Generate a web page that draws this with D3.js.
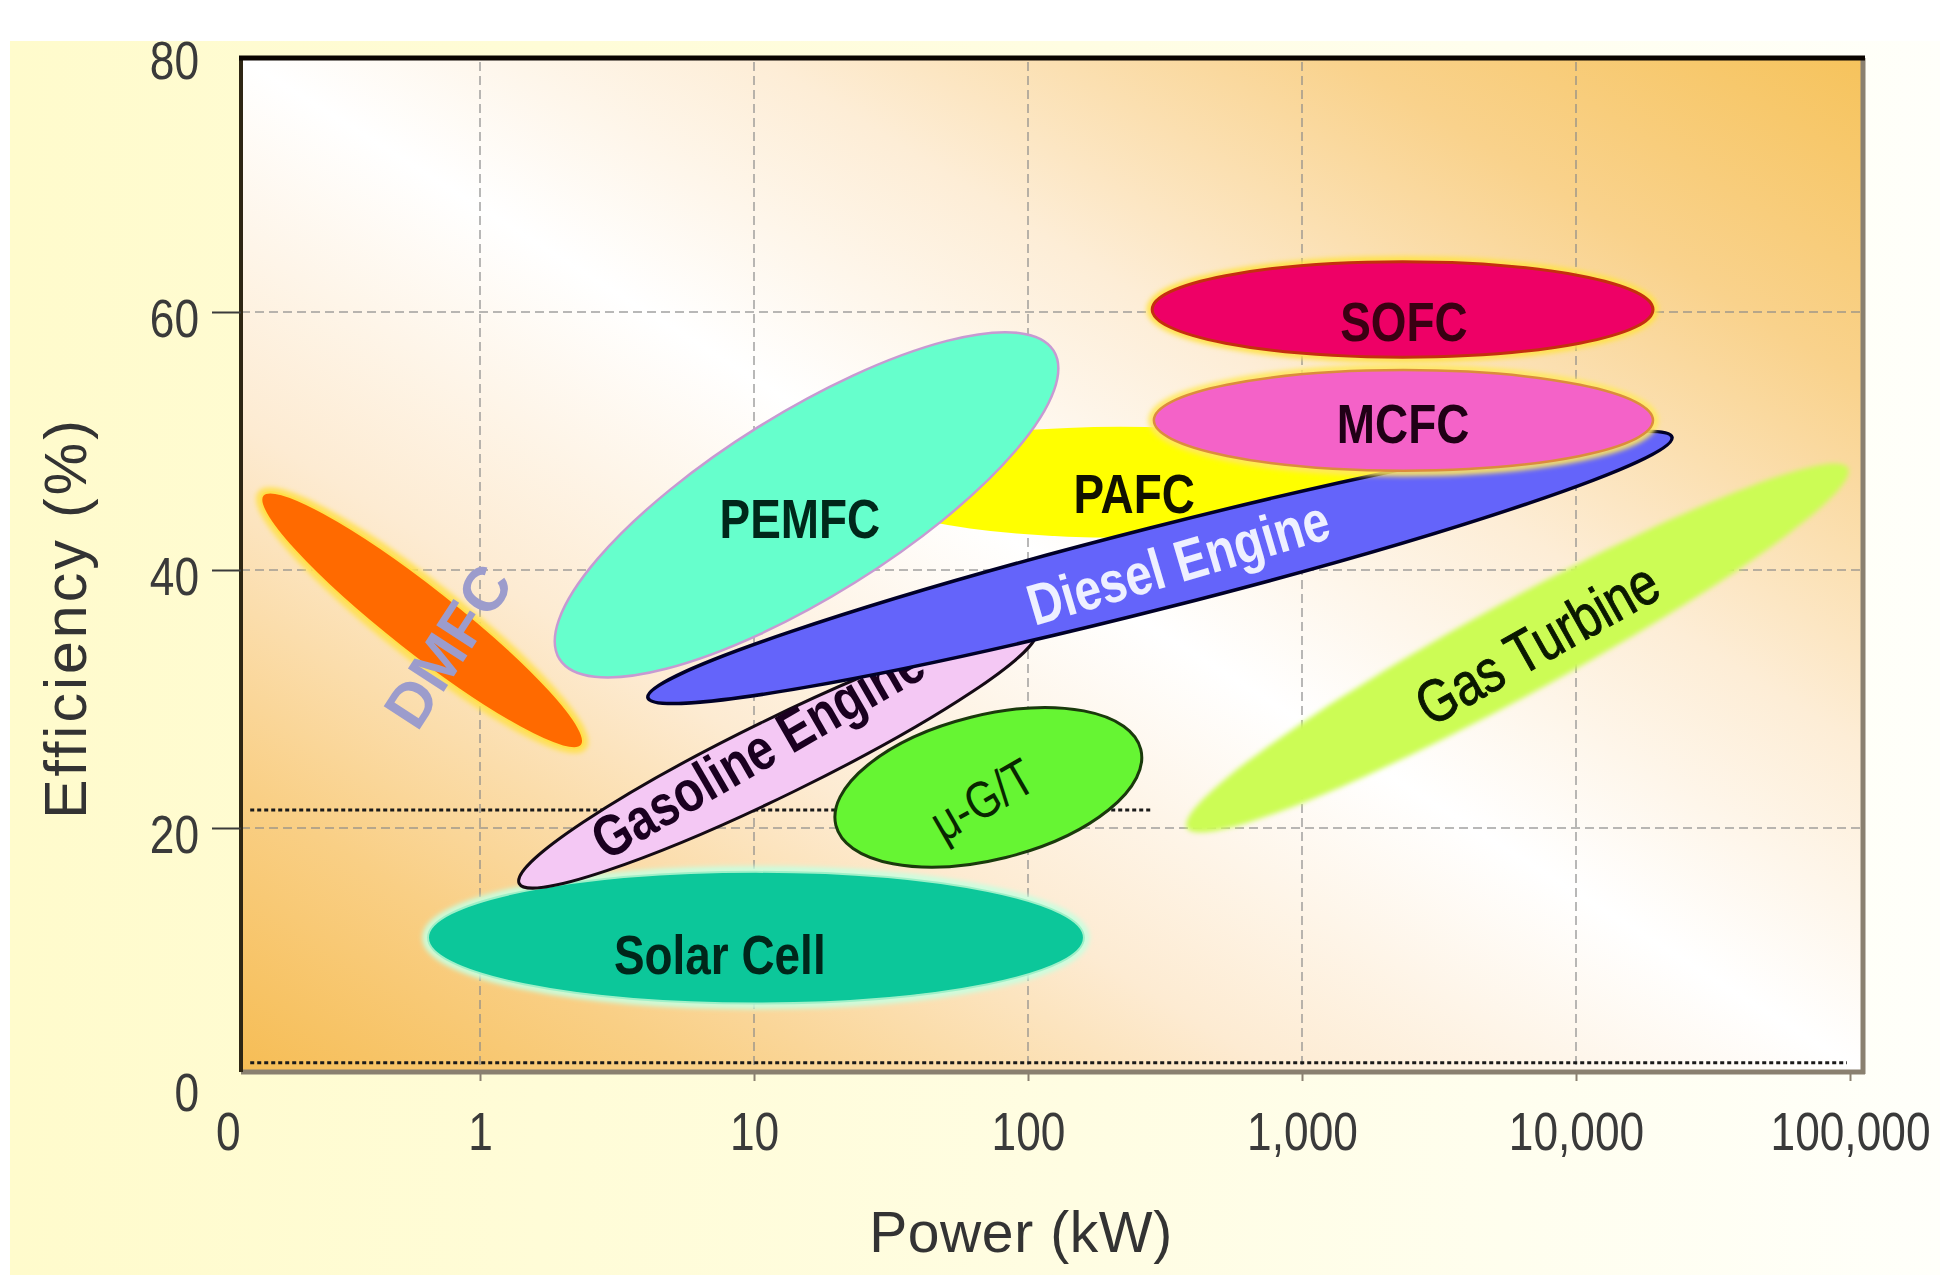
<!DOCTYPE html>
<html>
<head>
<meta charset="utf-8">
<script src="https://cdn.jsdelivr.net/npm/d3@7/dist/d3.min.js"></script>
<style>
  html, body { margin: 0; padding: 0; background: #ffffff; }
  svg { display: block; }
</style>
</head>
<body>
<svg id="chart" width="1940" height="1275"></svg>
<script>
// ---------------- DATA ----------------
const techNames   = ["DMFC", "Solar Cell", "PAFC", "PEMFC", "Gasoline Engine", "Diesel Engine", "SOFC", "MCFC", "μ-G/T", "Gas Turbine"];
// each technology region drawn as an ellipse between two (power, efficiency) end points
const powerStart  = [0.161, 0.646, 22.4, 1.95, 1.39, 4.1, 284, 288, 19.9, 380];      // kW
const effStart    = [45.8, 11.5, 46.8, 33.1, 15.7, 30.1, 60.2, 51.6, 20.2, 20.0];     // %
const powerEnd    = [2.35, 160, 2094, 124, 107, 22400, 19100, 19100, 258, 98400];    // kW
const effEnd      = [26.4, 11.5, 46.8, 57.0, 35.3, 50.3, 60.2, 51.6, 26.1, 47.9];     // %
const effSpread   = [2.6, 5.1, 4.3, 7.1, 2.95, 3.15, 3.7, 3.9, 5.6, 3.6];             // half width, % points
// label anchors
const labelPower  = [0.764, 7.5, 244, 14.7, 10.3, 353, 2355, 2338, 68, 7210];
const labelEff    = [34.1, 10.2, 45.9, 44.0, 26.0, 40.6, 59.2, 51.3, 22.2, 34.3];

// reference (dotted) lines
const refEff      = [21.4, 1.8];
const refPowerTo  = [284, 97500];

// axes
const xTickValues = [0.12, 1, 10, 100, 1000, 10000, 100000];
const xTickLabels = ["0", "1", "10", "100", "1,000", "10,000", "100,000"];
const yTickValues = [0, 20, 40, 60, 80];
const yTickLabels = ["0", "20", "40", "60", "80"];
const xGridValues = [1, 10, 100, 1000, 10000];
const yGridValues = [20, 40, 60];
const xTitle = "Power (kW)";
const yTitle = "Efficiency (%)";

// ---------------- STYLES ----------------
const shapeStyle = {
  "DMFC":            {fill: "#ff6a00", stroke: "#ffe04a", sw: 2, glow: "#ffe050"},
  "Solar Cell":      {fill: "#0cc79a", stroke: "#9ef0c8", sw: 2, glow: "#c8ffe0"},
  "PAFC":            {fill: "#ffff00", stroke: "none", sw: 0},
  "PEMFC":           {fill: "#66ffcc", stroke: "#c79ad2", sw: 2.5},
  "Gasoline Engine": {fill: "#f4c8f4", stroke: "#140a14", sw: 3},
  "Diesel Engine":   {fill: "#6464fa", stroke: "#000028", sw: 3.5},
  "SOFC":            {fill: "#ee0066", stroke: "#c4300e", sw: 3, glow: "#ffe24a"},
  "MCFC":            {fill: "#f462c8", stroke: "#dc8c3c", sw: 2.5, glow: "#ffe860"},
  "μ-G/T":           {fill: "#66f533", stroke: "#1a3a0c", sw: 3},
  "Gas Turbine":     {fill: "#ccfc55", stroke: "none", sw: 0, soft: true}
};
const SANS = "'Liberation Sans', Arial, Helvetica, sans-serif";
const NARROW_SCALE = 0.82;   // emulates the condensed face of the original
const labelStyle = {
  "DMFC":            {color: "#9c9ccc", size: 62, weight: 700, angle: -57, sx: 1},
  "Solar Cell":      {color: "#00261a", size: 56, weight: 700, angle: 0},
  "PAFC":            {color: "#111100", size: 56, weight: 700, angle: 0},
  "PEMFC":           {color: "#00281a", size: 56, weight: 700, angle: 0},
  "Gasoline Engine": {color: "#1a0020", size: 58, weight: 700, angle: -30},
  "Diesel Engine":   {color: "#eef0ff", size: 58, weight: 700, angle: -16.5},
  "SOFC":            {color: "#3a0012", size: 56, weight: 700, angle: 0},
  "MCFC":            {color: "#200016", size: 56, weight: 700, angle: 0},
  "μ-G/T":           {color: "#082600", size: 52, weight: 400, angle: -30},
  "Gas Turbine":     {color: "#0a1800", size: 60, weight: 400, angle: -29.4, outline: 1}
};

// ---------------- LAYOUT ----------------
const frame = {left: 241, right: 1863, top: 58, bottom: 1072};
const svg = d3.select("#chart");

const x = d3.scaleLog().domain([1, 100000]).range([480, 1850]);
const y = d3.scaleLinear().domain([0, 80]).range([1086, 54]);
const pxPerPct = y(0) - y(1);

const defs = svg.append("defs");
const pg = defs.append("linearGradient").attr("id", "panelBg")
  .attr("x1", 0).attr("y1", 0).attr("x2", 1).attr("y2", 0);
pg.append("stop").attr("offset", 0).attr("stop-color", "#fffbcc");
pg.append("stop").attr("offset", 0.55).attr("stop-color", "#fffde2");
pg.append("stop").attr("offset", 1).attr("stop-color", "#fffffa");

const bg = defs.append("linearGradient").attr("id", "plotBg")
  .attr("x1", 0).attr("y1", 1).attr("x2", 1).attr("y2", 0);
[[0, "#f6bd55"], [0.14, "#f9cf85"], [0.32, "#fdebd2"], [0.5, "#ffffff"],
 [0.66, "#fdedd6"], [0.84, "#f9d28c"], [1, "#f6c35c"]]
  .forEach(([o, c]) => bg.append("stop").attr("offset", o).attr("stop-color", c));

defs.append("filter").attr("id", "glow").attr("x", "-20%").attr("y", "-40%").attr("width", "140%").attr("height", "180%")
  .append("feGaussianBlur").attr("stdDeviation", 2.5);
defs.append("filter").attr("id", "soft").attr("x", "-10%").attr("y", "-20%").attr("width", "120%").attr("height", "140%")
  .append("feGaussianBlur").attr("stdDeviation", 2.5);

// outer panel
svg.append("rect").attr("x", 10).attr("y", 41).attr("width", 1930).attr("height", 1234).attr("fill", "url(#panelBg)");

// plot background
svg.append("rect").attr("x", frame.left).attr("y", frame.top)
  .attr("width", frame.right - frame.left).attr("height", frame.bottom - frame.top)
  .attr("fill", "url(#plotBg)");

// grid
const grid = svg.append("g").attr("stroke", "#8a8a8a").attr("stroke-width", 2)
  .attr("stroke-dasharray", "9,5").attr("opacity", 0.6);
grid.selectAll("line.h").data(yGridValues).join("line").attr("class", "h")
  .attr("x1", frame.left).attr("x2", frame.right).attr("y1", d => y(d)).attr("y2", d => y(d));
grid.selectAll("line.v").data(xGridValues).join("line").attr("class", "v")
  .attr("x1", d => x(d)).attr("x2", d => x(d)).attr("y1", frame.top + 4).attr("y2", frame.bottom);

// dotted reference lines
svg.append("g").selectAll("line").data(refEff).join("line")
  .attr("x1", x(0.145)).attr("x2", (d, i) => x(refPowerTo[i]))
  .attr("y1", d => y(d)).attr("y2", d => y(d))
  .attr("stroke", "#1a1a1a").attr("stroke-width", 3).attr("stroke-dasharray", "4,3");

// ellipses + labels
const shapes = svg.append("g");
techNames.forEach((name, i) => {
  const x1 = x(powerStart[i]), y1 = y(effStart[i]);
  const x2 = x(powerEnd[i]), y2 = y(effEnd[i]);
  const cx = (x1 + x2) / 2, cy = (y1 + y2) / 2;
  const rx = Math.hypot(x2 - x1, y2 - y1) / 2;
  const ry = effSpread[i] * pxPerPct;
  const ang = Math.atan2(y2 - y1, x2 - x1) * 180 / Math.PI;
  const st = shapeStyle[name];
  const g = shapes.append("g").attr("transform", `rotate(${ang} ${cx} ${cy})`);
  if (st.glow) {
    g.append("ellipse").attr("cx", cx).attr("cy", cy).attr("rx", rx + 2).attr("ry", ry + 2)
      .attr("fill", "none").attr("stroke", st.glow).attr("stroke-width", 7).attr("filter", "url(#glow)");
  }
  g.append("ellipse").attr("cx", cx).attr("cy", cy).attr("rx", rx).attr("ry", ry)
    .attr("fill", st.fill).attr("stroke", st.stroke).attr("stroke-width", st.sw)
    .attr("filter", st.soft ? "url(#soft)" : null);

  const ls = labelStyle[name];
  const lx = x(labelPower[i]), ly = y(labelEff[i]);
  const sx = ls.sx !== undefined ? ls.sx : NARROW_SCALE;
  shapes.append("text")
    .attr("x", 0).attr("y", 0)
    .attr("transform", `translate(${lx},${ly}) rotate(${ls.angle}) scale(${sx},1)`)
    .attr("text-anchor", "middle").attr("dominant-baseline", "central")
    .attr("font-family", SANS)
    .attr("font-size", ls.size).attr("font-weight", ls.weight)
    .attr("fill", ls.color)
    .attr("stroke", ls.outline ? ls.color : null)
    .attr("stroke-width", ls.outline || null)
    .text(name);
});

// frame
const fr = svg.append("g");
fr.append("line").attr("x1", frame.right).attr("x2", frame.right).attr("y1", frame.top).attr("y2", frame.bottom + 2)
  .attr("stroke", "#8a8070").attr("stroke-width", 5);
fr.append("line").attr("x1", frame.left).attr("x2", frame.right + 2).attr("y1", frame.bottom).attr("y2", frame.bottom)
  .attr("stroke", "#8a8070").attr("stroke-width", 5);
fr.append("line").attr("x1", frame.left).attr("x2", frame.left).attr("y1", frame.top).attr("y2", frame.bottom)
  .attr("stroke", "#2e2614").attr("stroke-width", 4);
fr.append("line").attr("x1", frame.left - 2).attr("x2", frame.right + 2).attr("y1", frame.top).attr("y2", frame.top)
  .attr("stroke", "#0a0400").attr("stroke-width", 5);

// x axis
const xAxis = svg.append("g").attr("transform", `translate(0,${frame.bottom})`)
  .call(d3.axisBottom(x).tickValues(xTickValues).tickFormat((d, i) => xTickLabels[i]).tickSize(9));
xAxis.select(".domain").remove();
xAxis.selectAll(".tick line").attr("stroke", "#8a8070").attr("stroke-width", 2)
  .filter((d, i) => i === 0).remove();
xAxis.selectAll(".tick text")
  .attr("x", 0).attr("y", 59).attr("dy", "0.36em")
  .attr("transform", `scale(${NARROW_SCALE},1)`)
  .attr("font-family", SANS).attr("font-size", 54).attr("fill", "#3a3a3a");

// y axis
const yAxis = svg.append("g").attr("transform", `translate(${frame.left},0)`)
  .call(d3.axisLeft(y).tickValues(yTickValues).tickFormat((d, i) => yTickLabels[i]).tickSize(29));
yAxis.select(".domain").remove();
yAxis.selectAll(".tick line").attr("stroke", "#3a3a3a").attr("stroke-width", 2)
  .filter(d => d === 0 || d === 80).remove();
yAxis.selectAll(".tick text")
  .attr("x", -42 / NARROW_SCALE).attr("dy", "0.45em")
  .attr("transform", `scale(${NARROW_SCALE},1)`)
  .attr("font-family", SANS).attr("font-size", 54).attr("fill", "#3a3a3a");

// titles
svg.append("text").attr("x", 1021).attr("y", 1232)
  .attr("text-anchor", "middle").attr("dominant-baseline", "central")
  .attr("font-family", SANS).attr("font-size", 57)
  .attr("letter-spacing", 0.6).attr("fill", "#333").text(xTitle);
svg.append("text").attr("transform", "translate(66,618) rotate(-90)")
  .attr("text-anchor", "middle").attr("dominant-baseline", "central")
  .attr("font-family", SANS).attr("font-size", 59)
  .attr("letter-spacing", 3).attr("fill", "#333").text(yTitle);

// white top band (clips the "80" label like the original)
svg.append("rect").attr("x", 0).attr("y", 0).attr("width", 1940).attr("height", 41).attr("fill", "#ffffff");
svg.append("rect").attr("x", 0).attr("y", 0).attr("width", 10).attr("height", 1275).attr("fill", "#ffffff");
</script>
</body>
</html>
